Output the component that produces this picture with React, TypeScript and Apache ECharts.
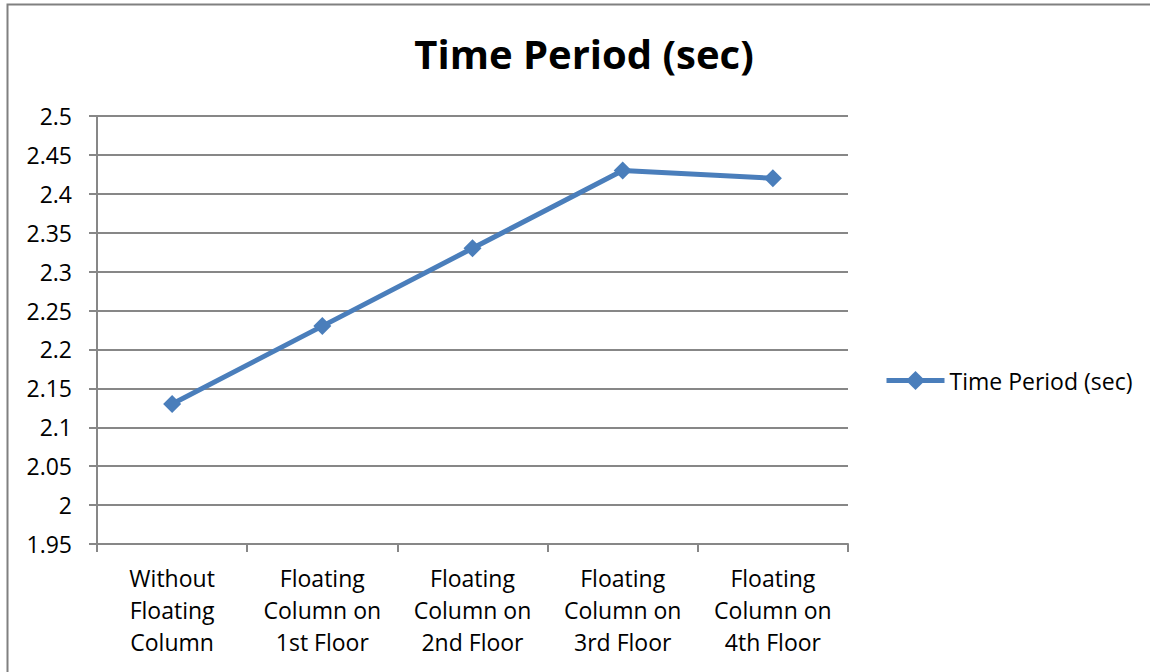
import React, { useEffect, useRef } from "react";
import * as echarts from "echarts";

const categories = [
  "Without\nFloating\nColumn",
  "Floating\nColumn on\n1st Floor",
  "Floating\nColumn on\n2nd Floor",
  "Floating\nColumn on\n3rd Floor",
  "Floating\nColumn on\n4th Floor",
];
const seriesName = "Time Period (sec)";
const values = [2.13, 2.23, 2.33, 2.43, 2.42];
const yMin = 1.95;
const yMax = 2.5;
const yStep = 0.05;

const FONT = "'Open Sans', 'Noto Sans', sans-serif";
const BLUE = "#4a7ebb";
const GRIDC = "#878787";

export default function App() {
  const ref = useRef<HTMLDivElement>(null);
  useEffect(() => {
    document.body.style.margin = "0";
    const chart = echarts.init(ref.current!, undefined, { renderer: "svg" });
    chart.setOption({
      animation: false,
      backgroundColor: "#ffffff",
      title: {
        text: "Time Period (sec)",
        left: 579,
        top: 28,
        textAlign: "center",
        textStyle: { fontFamily: FONT, fontSize: 40, fontWeight: "bold", color: "#000" },
      },
      graphic: [
        {
          type: "rect",
          shape: { x: 7.5, y: 4.5, width: 1160, height: 700 },
          style: { fill: "none", stroke: "#808080", lineWidth: 2 },
          silent: true,
        },
      ],
      legend: {
        left: 879,
        top: 364,
        itemWidth: 58,
        itemHeight: 24,
        itemGap: 4,
        lineStyle: { width: 5 },
        textStyle: { fontFamily: FONT, fontSize: 23, color: "#000", padding: [0, 0, 0, 0] },
        data: [seriesName],
      },
      grid: { left: 97, right: 302, top: 116, bottom: 128, containLabel: false },
      xAxis: {
        type: "category",
        data: categories,
        boundaryGap: true,
        axisLine: { lineStyle: { color: GRIDC, width: 2 } },
        axisTick: { show: true, length: 8, interval: 0, lineStyle: { color: GRIDC, width: 2 } },
        axisLabel: {
          interval: 0,
          margin: 18,
          fontFamily: FONT,
          fontSize: 23,
          lineHeight: 32,
          color: "#000",
        },
        splitLine: { show: false },
      },
      yAxis: {
        type: "value",
        min: yMin,
        max: yMax,
        interval: yStep,
        axisLine: { show: true, lineStyle: { color: GRIDC, width: 2 } },
        axisTick: { show: true, length: 8, lineStyle: { color: GRIDC, width: 2 } },
        axisLabel: {
          margin: 25,
          fontFamily: FONT,
          fontSize: 23,
          color: "#000",
          formatter: (v: number) => String(parseFloat(v.toFixed(2))),
        },
        splitLine: { show: true, lineStyle: { color: GRIDC, width: 2 } },
      },
      series: [
        {
          name: seriesName,
          type: "line",
          data: values,
          symbol: "diamond",
          symbolSize: 18,
          lineStyle: { color: BLUE, width: 5 },
          itemStyle: { color: BLUE },
        },
      ],
    });
    return () => chart.dispose();
  }, []);
  return <div ref={ref} style={{ position: "absolute", left: 0, top: 0, width: 1150, height: 672 }} />;
}
